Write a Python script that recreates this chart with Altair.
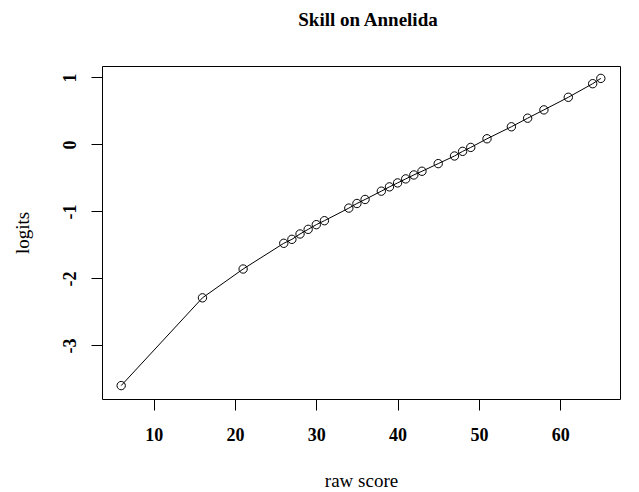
import altair as alt
import pandas as pd

raw_score = [6, 16, 21, 26, 27, 28, 29, 30, 31, 34, 35, 36, 38, 39, 40, 41, 42, 43,
             45, 47, 48, 49, 51, 54, 56, 58, 61, 64, 65]
logits = [-3.60, -2.29, -1.86, -1.476, -1.417, -1.337, -1.268, -1.198, -1.139,
          -0.951, -0.882, -0.822, -0.698, -0.634, -0.575, -0.515, -0.456, -0.401,
          -0.287, -0.173, -0.104, -0.045, 0.084, 0.263, 0.391, 0.515, 0.703,
          0.906, 0.985]
x_ticks = [10, 20, 30, 40, 50, 60]
y_ticks = [-3, -2, -1, 0, 1]

df = pd.DataFrame({"raw": raw_score, "logit": logits})

SERIF = "Liberation Serif"

x_enc = alt.X(
    "raw:Q",
    scale=alt.Scale(domain=[3.64, 67.36], nice=False, zero=False),
    axis=alt.Axis(
        values=x_ticks, title="raw score", grid=False, domain=False,
        tickSize=11, tickColor="black", tickWidth=1,
        labelFont=SERIF, labelFontSize=18, labelFontWeight="bold", labelColor="black",
        labelPadding=16,
        titleFont=SERIF, titleFontSize=19, titleFontWeight="normal", titleColor="black",
        titleY=81, titleBaseline="middle",
    ),
)
y_enc = alt.Y(
    "logit:Q",
    scale=alt.Scale(domain=[-3.80, 1.17], nice=False, zero=False),
    axis=alt.Axis(
        values=y_ticks, title="logits", grid=False, domain=False,
        tickSize=11, tickColor="black", tickWidth=1,
        labelFont=SERIF, labelFontSize=18, labelFontWeight="bold", labelColor="black",
        labelAngle=-90, labelPadding=12, labelAlign="center", labelBaseline="bottom",
        labelExpr="datum.value < 0 ? '-' + abs(datum.value) : datum.label",
        titleFont=SERIF, titleFontSize=19, titleFontWeight="normal", titleColor="black",
        titleX=-80, titleBaseline="middle",
    ),
)

base = alt.Chart(df).encode(x=x_enc, y=y_enc)
line = base.mark_line(color="black", strokeWidth=1)
pts = base.mark_point(shape="circle", filled=False, color="black", size=70, strokeWidth=1, opacity=1)

chart = (line + pts).properties(
    width=518, height=333,
    background="white",
    title=alt.TitleParams(
        "Skill on Annelida", font=SERIF, fontSize=19, fontWeight="bold", color="black",
        offset=39, baseline="alphabetic", anchor="middle", dx=7, dy=18,
    ),
    autosize=alt.AutoSizeParams(type="none"),
    padding={"left": 94, "top": 58, "right": 10, "bottom": 95},
).configure_view(stroke="black", strokeWidth=1)

chart.save("out.html", embed_options={"renderer": "svg", "actions": False})
